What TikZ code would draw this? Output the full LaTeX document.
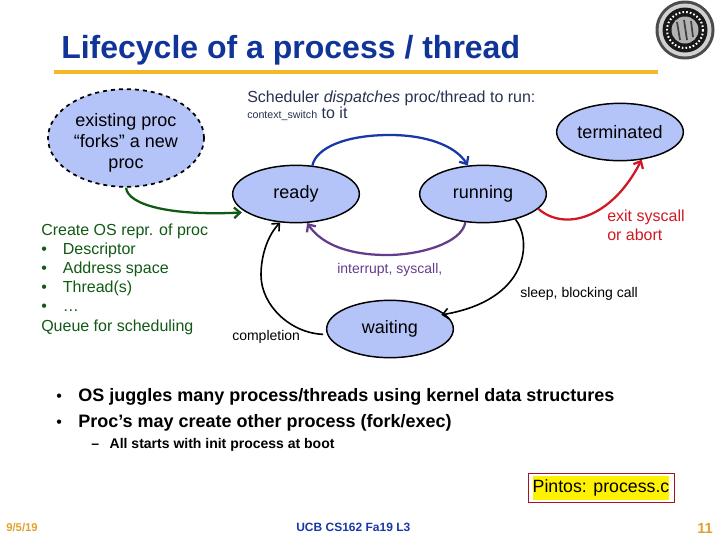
\documentclass[tikz,border=0pt]{standalone}
\usepackage{fontspec}
\setmainfont{Liberation Sans}
\usetikzlibrary{shapes.geometric,arrows.meta,calc}
\definecolor{titleblue}{RGB}{16,52,152}
\definecolor{rulegold}{RGB}{243,184,38}
\definecolor{statefill}{RGB}{180,196,248}
\definecolor{inkgreen}{RGB}{16,90,20}
\definecolor{inkred}{RGB}{208,24,36}
\definecolor{inkpurple}{RGB}{100,60,140}
\definecolor{inkblue}{RGB}{24,56,168}
\definecolor{greytext}{RGB}{40,50,80}
\definecolor{footgold}{RGB}{226,160,50}
\tikzset{
  state/.style={ellipse,draw=black,fill=statefill,line width=1.1pt,minimum width=95pt,minimum height=43pt,inner sep=0pt,font=\fontsize{13.5}{16}\selectfont,text=black},
  label/.style={inner sep=0pt,anchor=west,font=\fontsize{12}{14.4}\selectfont},
  flow/.style={line width=1.7pt,-{Straight Barb[length=4.5pt,width=8pt]}},
}
\begin{document}
\begin{tikzpicture}[x=0.75pt,y=-0.75pt]
  \useasboundingbox (0,0) rectangle (720,540);
  % --- title and rule ---
  \node[anchor=west,inner sep=0pt,text=titleblue,font=\fontsize{24}{26}\selectfont\bfseries] (title) at (61,50) {Lifecycle of a process / thread};
  \fill[rulegold] (54,70) rectangle (658,74);
  % --- seal ---
  \fill[black!70] (685,30) circle (29.5);
  \fill[black!18] (685,30) circle (26.5);
  \fill[black!90] (685,30) circle (22.5);
  \draw[white,line width=1.5pt,dash pattern=on 1.2pt off 1.6pt] (685,30) circle (18);
  \fill[black!30] (685,30) circle (13.5);
  \draw[black!75,line width=1.3pt] (677,22) -- (680,40) (684,20) -- (687,40) (691,21) -- (693,37);
  % --- states ---
  \node[state,dashed,line width=1.3pt,minimum width=117pt,minimum height=67pt,align=center] (existing) at (126,138) {\rule{0pt}{17pt}existing proc\\“forks” a new\\proc};
  \node[state] (ready) at (296,194) {ready};
  \node[state] (running) at (483,194) {running};
  \node[state] (waiting) at (390,329) {waiting};
  \node[state] (terminated) at (620,132) {terminated};
  % --- transitions ---
  \draw[flow,inkblue] (ready.60) .. controls (316,148) and (345,135) .. (390,135) .. controls (425,135) and (455,145) .. (running.118);
  \draw[flow,inkgreen,shorten >=3pt] (existing.south) .. controls (128,205) and (170,216) .. (ready.200);
  \draw[flow,inkred] (running.-15) .. controls (565,232) and (612,218) .. (terminated.-52);
  \draw[flow,inkpurple] (running.-122) .. controls (462,243) and (420,255) .. (387,255) .. controls (350,255) and (322,245) .. (ready.-69);
  \draw[flow,black,line width=1.2pt,shorten >=-3pt] (running.-38) .. controls (532,240) and (530,300) .. (waiting.15);
  \draw[flow,black,line width=1.2pt,shorten <=3pt] (waiting.185) .. controls (290,333) and (261,305) .. (261,275) .. controls (261,255) and (268,235) .. (ready.-119);
  % --- labels on the diagram ---
  \node[label,text=greytext] (sched) at (247,98) {Scheduler \textit{dispatches} proc/thread to run:};
  \node[label,text=greytext] (toit) at (247,114) {{\fontsize{8}{8}\selectfont context\_switch} to it};
  \node[label,text=inkred,align=left] (exitlbl) at (607,225) {exit syscall\\or abort};
  \node[label,text=inkpurple,font=\fontsize{10.5}{12}\selectfont] (intlbl) at (337,269.5) {interrupt, syscall,};
  \node[label,font=\fontsize{10.5}{12}\selectfont] (sleeplbl) at (520,293.5) {sleep, blocking call};
  \node[label,font=\fontsize{10.5}{12}\selectfont] (complbl) at (232,336.5) {completion};
  \node[label,text=inkgreen,align=left,font=\fontsize{12}{14.4}\selectfont] (create) at (41,279) {Create OS repr. of proc\\•\hspace{12pt}Descriptor\\•\hspace{12pt}Address space\\•\hspace{12pt}Thread(s)\\•\hspace{12pt}…\\Queue for scheduling};
  % --- bullets ---
  \node[label,font=\fontsize{13.5}{15}\selectfont\bfseries] (b1) at (78,396.5) {OS juggles many process/threads using kernel data structures};
  \node[label,font=\fontsize{13.5}{15}\selectfont\bfseries] (b2) at (78,422.5) {Proc’s may create other process (fork/exec)};
  \node[label,font=\fontsize{12}{15}\selectfont] (d1) at (56,398) {•};
  \node[label,font=\fontsize{12}{15}\selectfont] (d2) at (56,424) {•};
  \node[label,font=\fontsize{10.5}{12}\selectfont\bfseries] (sub) at (91,444.5) {–\hspace{8pt}All starts with init process at boot};
  % --- pintos box ---
  \node[draw=inkred!80!black,line width=0.7pt,inner xsep=3.5pt,inner ysep=1.5pt,font=\fontsize{13.3}{15}\selectfont] (pintos) at (601,488) {\colorbox{yellow}{\hspace{-3pt}Pintos: process.c\hspace{-3pt}}};
  % --- footer ---
  \node[label,text=footgold,font=\fontsize{8.5}{9}\selectfont\bfseries] (date) at (6,527) {9/5/19};
  \node[label,text=inkblue,font=\fontsize{9}{10}\selectfont\bfseries] (course) at (296,527) {UCB CS162 Fa19 L3};
  \node[label,text=footgold,font=\fontsize{11}{11}\selectfont\bfseries] (page) at (697,528) {11};
\end{tikzpicture}
\end{document}
